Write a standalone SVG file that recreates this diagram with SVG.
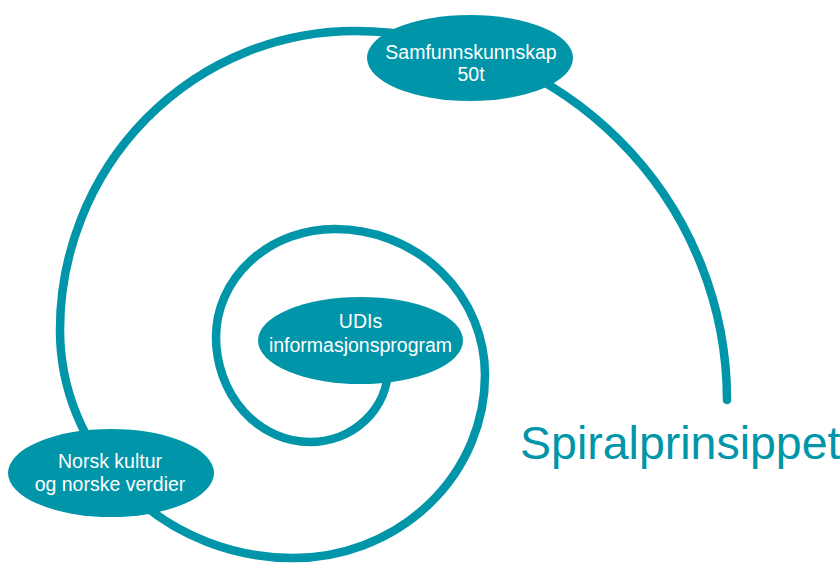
<svg xmlns="http://www.w3.org/2000/svg" width="840" height="563" viewBox="0 0 840 563">
  <style>
    .spiral { fill: none; stroke: #0095a8; stroke-width: 8.5; stroke-linecap: round; }
    .node { fill: #0095a8; }
    .lbl { fill: #ffffff; font-family: "Liberation Sans", Arial, sans-serif; font-size: 19.5px; text-anchor: middle; }
    .title { fill: #0095a8; font-family: "Liberation Sans", Arial, sans-serif; font-size: 46.5px; }
  </style>
  <rect width="840" height="563" fill="#ffffff"/>
  <g id="connectors">
    <path class="spiral" d="M 388 368 A 78 74 0 0 1 310 442 A 94 105 0 0 1 216 337 A 119 108 0 0 1 335 229 A 150 146 0 0 1 485 375 A 192 183 0 0 1 293 558 A 233 228 0 0 1 60 330 A 295 299 0 0 1 355 31 A 372 369 0 0 1 727 400"/>
  </g>
  <g id="node-udi">
    <ellipse class="node" cx="360.5" cy="340.5" rx="102.5" ry="43.5"/>
    <text class="lbl" x="360.5" y="328">UDIs</text>
    <text class="lbl" x="360.5" y="352">informasjonsprogram</text>
  </g>
  <g id="node-samfunn">
    <ellipse class="node" cx="470" cy="58" rx="103" ry="43"/>
    <text class="lbl" x="471" y="59">Samfunnskunnskap</text>
    <text class="lbl" x="471" y="81">50t</text>
  </g>
  <g id="node-norsk">
    <ellipse class="node" cx="111" cy="473" rx="103" ry="44"/>
    <text class="lbl" x="110" y="468">Norsk kultur</text>
    <text class="lbl" x="110" y="491">og norske verdier</text>
  </g>
  <g id="title">
    <text class="title" x="520" y="459">Spiralprinsippet</text>
  </g>
</svg>
